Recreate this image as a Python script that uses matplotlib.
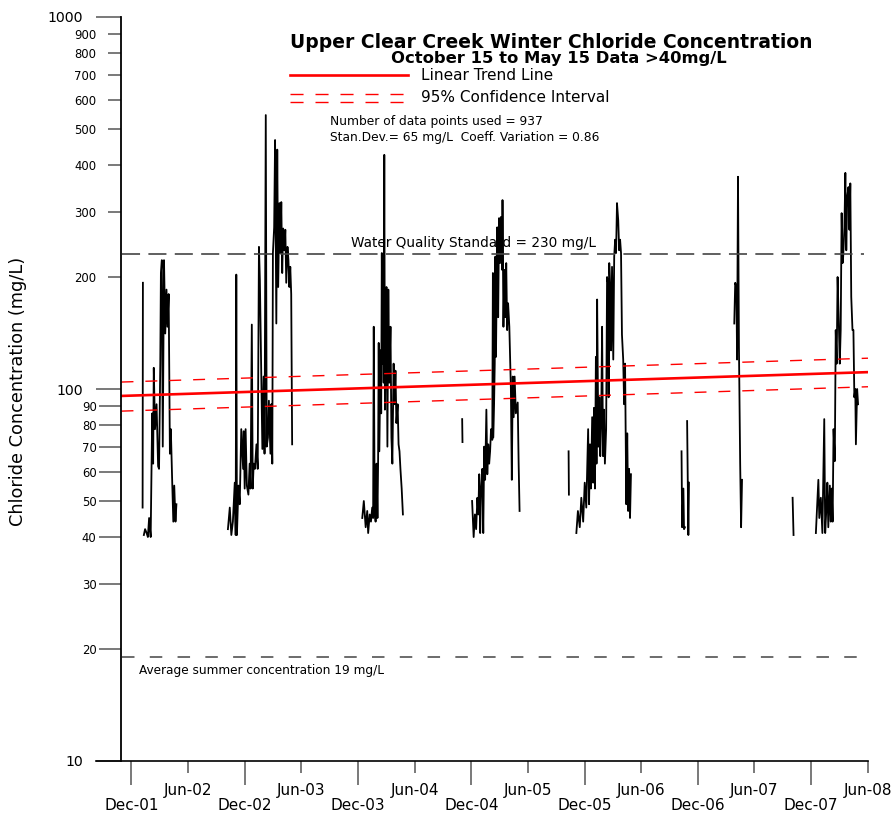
import numpy as np
import pandas as pd
import matplotlib
matplotlib.use("Agg")
import matplotlib.pyplot as plt
from matplotlib.lines import Line2D
from matplotlib.ticker import FixedLocator, FixedFormatter

nan = np.nan

# Winter chloride readings (mg/L) above 40 mg/L.
# Days are counted from 1 December of each winter; nan breaks the trace.
w0102_day = [36, 37, 38, 40, 44, 49, 53, 57, 62, 67, 70, 72, 76, 81, 86, 89, 93, 95,
             98, 101, 105, 109, 113, 116, 120, 124, 127, 131, 135, 138, 142, 145]
w0102_val = [48, 193, nan, 40.5, 42, 41, 40, 45, 40, 86, 63, 114, 78, 91, 62, 61, 117, 205,
             222, 70, 222, 141, 185, 147, 180, 67, 78, 58, 44, 55, 44, 49]

w0203_day = [-54, -48, -43, -38, -32, -29, -27, -25, -20, -16, -11, -5, -3, 0, 3, 7, 12, 16,
             19, 23, 26, 29, 33, 38, 42, 46, 49, 52, 57, 61, 64, 68, 71, 75, 78, 83, 86, 89,
             91, 95, 98, 102, 105, 108, 112, 115, 118, 121, 124, 128, 131, 134, 138, 141,
             144, 147, 150, 153]
w0203_val = [42, 48, 40.5, 44, 56, 40.5, 203, 40.5, 55, 49, 78, 61, 77, 54, 78, 55, 52, 63,
             54, 149, 54, 63, 61, 71, 61, 241, 196, 133, 69, 108, 67, 545, 70, 74, 93, 67, 91,
             63, 232, 272, 467, 150, 440, 188, 316, 232, 318, 205, 270, 236, 268, 193, 241,
             222, 188, 213, 180, 71]

w0304_day = [14, 19, 25, 30, 33, 38, 42, 46, 49, 51, 54, 57, 60, 63, 65, 67, 69, 73, 75, 77,
             79, 81, 83, 85, 87, 90, 92, 95, 98, 101, 105, 108, 111, 115, 118, 121, 124, 128,
             131, 134, 137, 141, 145]
w0304_val = [45, 50, 42.5, 47, 41, 46, 44, 48, 45, 147, 47, 44, 63, 45, 63, 133, 68, 127, 86,
             232, 117, 227, 104, 426, 88, 138, 188, 70, 185, 104, 147, 74, 63, 117, 91, 112,
             81, 91, 71, 68, 61, 54, 46]

w0405_day = [-30, -29, -25, 2, 7, 11, 15, 19, 22, 25, 28, 31, 35, 38, 41, 44, 48, 51, 54, 57,
             60, 63, 67, 69, 70, 73, 75, 77, 79, 83, 86, 89, 92, 95, 99, 100, 103, 106, 109,
             112, 115, 118, 122, 127, 130, 133, 136, 139, 143, 149, 152, 155]
w0405_val = [83, 72, nan, 50, 40, 46, 42, 51, 46, 59, 41, 54, 61, 41, 70, 57, 88, 59, 71, 63,
             68, 78, 73, 205, 74, 93, 117, 227, 122, 272, 156, 288, 218, 290, 209, 322, 147,
             209, 156, 218, 144, 170, 147, 100, 57, 108, 84, 108, 86, 92, 63, 47]

w0506_day = [-52, -51, -45, -27, -22, -16, -11, -5, 0, 5, 11, 14, 17, 20, 24, 27, 30, 33, 36,
             38, 40, 44, 47, 50, 53, 56, 59, 62, 65, 69, 72, 75, 77, 79, 82, 85, 88, 92, 95,
             98, 101, 104, 108, 111, 114, 117, 120, 124, 127, 130, 134, 137, 140, 143, 146, 149]
w0506_val = [68, 52, nan, 41, 47, 42.5, 51, 44, 56, 48, 78, 49, 71, 54, 84, 56, 89, 54, 122,
             63, 174, 70, 95, 66, 81, 147, 66, 88, 63, 78, 200, 193, 95, 218, 188, 127, 213,
             120, 227, 252, 232, 316, 284, 236, 252, 232, 140, 120, 91, 117, 49, 76, 47, 61,
             45, 59]

w0607_day = [-53, -51, -47, -45, -42, -40, -35, -31, -29, -25, 117, 120, 124, 126, 129, 132,
             136, 139, 142]
w0607_val = [68, 42.5, 54, 42, 42.5, nan, 82, 40.5, 56, nan, 150, 193, 188, 120, 372, 130,
             63, 42.5, 57]

w0708_day = [-60, -57, -50, 15, 23, 26, 31, 36, 42, 45, 49, 52, 55, 60, 63, 66, 69, 72, 76,
             79, 82, 85, 89, 92, 95, 98, 101, 103, 107, 110, 113, 116, 120, 123, 126, 129,
             133, 136, 139, 142, 144, 148, 151]
w0708_val = [51, 40.5, nan, 41, 57, 45, 51, 41, 83, 41, 48, 56, 42.5, 55, 44, 54, 44, 78, 64,
             144, 117, 200, 150, 117, 144, 297, 218, 227, 272, 381, 236, 328, 349, 268, 357,
             177, 144, 144, 95, 100, 71, 100, 91]

winters = [("2001-12-01", w0102_day, w0102_val),
           ("2002-12-01", w0203_day, w0203_val),
           ("2003-12-01", w0304_day, w0304_val),
           ("2004-12-01", w0405_day, w0405_val),
           ("2005-12-01", w0506_day, w0506_val),
           ("2006-12-01", w0607_day, w0607_val),
           ("2007-12-01", w0708_day, w0708_val)]

# regression line and 95% band at the two ends of the record
trend_dates = ["2001-10-30", "2008-06-01"]
trend_vals = [95.8, 111]
upper_vals = [104.4, 121]
lower_vals = [87.2, 101.4]

standard_val = 230
standard_dates = ["2001-10-30", "2008-05-20"]
summer_val = 19
summer_dates = ["2001-11-01", "2008-05-08"]

y_major = [10, 100, 1000]
y_minor = [20, 30, 40, 50, 60, 70, 80, 90, 200, 300, 400, 500, 600, 700, 800, 900]
dec_ticks = pd.date_range("2001-12-01", "2007-12-01", freq="12MS")
jun_ticks = pd.date_range("2002-06-01", "2008-06-01", freq="12MS")

plt.rcParams["lines.scale_dashes"] = False

W, H = 891, 817
fig = plt.figure(figsize=(W / 100, H / 100), dpi=100)
ax = fig.add_axes([121.5 / W, 1 - 761 / H, (868 - 121.5) / W, (761 - 17) / H])

for start, days, vals in winters:
    dates = pd.Timestamp(start) + pd.to_timedelta(days, unit="D")
    ax.plot(dates, vals, color="black", lw=1.3)

td = pd.to_datetime(trend_dates)
ax.plot(td, trend_vals, color="#ff0000", lw=1.9)
ax.plot(td, upper_vals, color="#ff0000", lw=1.0, ls=(0, (8.6, 8.6)))
ax.plot(td, lower_vals, color="#ff0000", lw=1.0, ls=(0, (8.6, 8.6)))

ax.plot(pd.to_datetime(standard_dates), [standard_val] * 2, color="#444444",
        lw=1.2, ls=(0, (13, 6)))
ax.plot(pd.to_datetime(summer_dates), [summer_val] * 2, color="#444444",
        lw=1.1, ls=(0, (9, 11)))
ax.annotate("Water Quality Standard = 230 mg/L", (pd.Timestamp("2003-11-10"), standard_val),
            xytext=(0, 3), textcoords="offset points", ha="left", va="bottom", fontsize=9.8)
ax.annotate("Average summer concentration 19 mg/L", (pd.Timestamp("2001-12-25"), summer_val),
            xytext=(0, -5), textcoords="offset points", ha="left", va="top", fontsize=8.7)

ax.set_yscale("log")
ax.set_ylim(10, 1000)
ax.set_xlim(pd.Timestamp("2001-10-30"), pd.Timestamp("2008-06-01"))

ax.yaxis.set_major_locator(FixedLocator(y_major))
ax.yaxis.set_major_formatter(FixedFormatter([str(v) for v in y_major]))
ax.yaxis.set_minor_locator(FixedLocator(y_minor))
ax.yaxis.set_minor_formatter(FixedFormatter([str(v) for v in y_minor]))
ax.tick_params(axis="y", which="major", direction="out", length=18, width=1.1,
               color="#555555", labelsize=10.2, pad=9.5)
ax.tick_params(axis="y", which="minor", direction="out", length=9.4, width=1.1,
               color="#555555", labelsize=8.4, pad=8.5)
fig.canvas.draw()
# lower decade minor ticks are drawn longer
for t in ax.yaxis.get_minor_ticks():
    if t.get_loc() < 100:
        t.tick1line.set_markersize(15.6)

ax.xaxis.set_major_locator(FixedLocator(matplotlib.dates.date2num(dec_ticks)))
ax.xaxis.set_major_formatter(FixedFormatter([d.strftime("Dec-%y") for d in dec_ticks]))
ax.xaxis.set_minor_locator(FixedLocator(matplotlib.dates.date2num(jun_ticks)))
ax.xaxis.set_minor_formatter(FixedFormatter([d.strftime("Jun-%y") for d in jun_ticks]))
ax.tick_params(axis="x", which="major", direction="out", length=17.3, width=1.1,
               color="#555555", labelsize=11, pad=9.5)
ax.tick_params(axis="x", which="minor", direction="out", length=8.6, width=1.1,
               color="#555555", labelsize=11, pad=7.5)

for side in ["top", "right", "bottom"]:
    ax.spines[side].set_visible(False)
ax.spines["left"].set_linewidth(1.3)
# x axis line runs out past the y axis to the end of the 10 tick
fig.add_artist(Line2D([96 / W, 868 / W], [1 - 761 / H] * 2, color="black", lw=1.2))

fig.text(18 / W, 1 - 391 / H, "Chloride Concentration (mg/L)", rotation=90,
         ha="center", va="center", fontsize=12.8)

fig.text(551 / W, 1 - 42 / H, "Upper Clear Creek Winter Chloride Concentration",
         ha="center", va="center", fontsize=13.5, fontweight="bold")
fig.text(559 / W, 1 - 59 / H, "October 15 to May 15 Data >40mg/L",
         ha="center", va="center", fontsize=11.8, fontweight="bold")

fig.add_artist(Line2D([290 / W, 408 / W], [1 - 75 / H] * 2, color="#ff0000", lw=1.9))
fig.add_artist(Line2D([290 / W, 404 / W], [1 - 94 / H] * 2, color="#ff0000", lw=1.0,
                      ls=(0, (9.4, 8.6))))
fig.add_artist(Line2D([290 / W, 404 / W], [1 - 101.5 / H] * 2, color="#ff0000", lw=1.0,
                      ls=(0, (9.4, 8.6))))
fig.text(421 / W, 1 - 75 / H, "Linear Trend Line", ha="left", va="center", fontsize=11.1)
fig.text(421 / W, 1 - 98 / H, "95% Confidence Interval", ha="left", va="center", fontsize=11)
fig.text(330 / W, 1 - 121 / H, "Number of data points used = 937", ha="left", va="center",
         fontsize=8.8)
fig.text(330 / W, 1 - 137 / H, "Stan.Dev.= 65 mg/L  Coeff. Variation = 0.86", ha="left",
         va="center", fontsize=8.8)

fig.savefig("out.png", dpi=100)
